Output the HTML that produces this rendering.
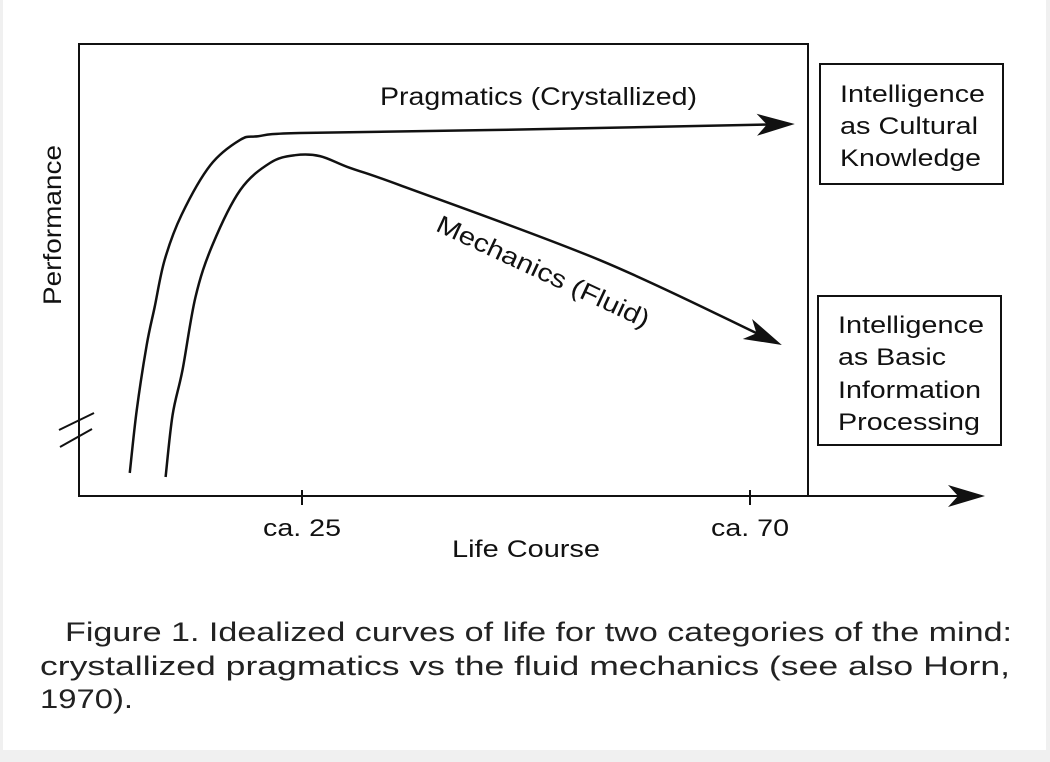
<!DOCTYPE html>
<html><head><meta charset="utf-8"><style>
html,body{margin:0;padding:0;background:#f0f0f0;}
svg{display:block;font-family:"Liberation Sans",sans-serif;}
</style></head><body>
<svg id="chart" width="1050" height="762" viewBox="0 0 1050 762">
<rect x="3" y="0" width="1043" height="750" fill="#fff"/>
<rect x="79" y="44" width="729" height="452" fill="none" stroke="#111" stroke-width="2"/>
<line x1="79" y1="496" x2="965" y2="496" stroke="#111" stroke-width="2"/>
<path d="M985,496 L948,485 L958,496 L948,507 Z" fill="#111"/>
<line x1="59" y1="430" x2="94" y2="413" stroke="#111" stroke-width="2"/>
<line x1="60" y1="447" x2="92" y2="429" stroke="#111" stroke-width="2"/>
<g id="ticks"></g>
<g id="series"></g>
<text x="61" y="225" font-size="25" text-anchor="middle" textLength="160" lengthAdjust="spacingAndGlyphs" transform="rotate(-90 61 225)" fill="#111">Performance</text>
<text x="452" y="557" font-size="24" textLength="148" lengthAdjust="spacingAndGlyphs" fill="#111">Life Course</text>
<text x="380" y="105" font-size="25" textLength="317" lengthAdjust="spacingAndGlyphs" fill="#111">Pragmatics (Crystallized)</text>
<text x="543" y="280" font-size="25" text-anchor="middle" textLength="232" lengthAdjust="spacingAndGlyphs" fill="#111" transform="rotate(25 543 272)">Mechanics (Fluid)</text>
<g font-size="24" fill="#111">
<rect x="820" y="64" width="183" height="120" fill="none" stroke="#111" stroke-width="2"/>
<text x="840" y="102" textLength="145" lengthAdjust="spacingAndGlyphs">Intelligence</text>
<text x="840" y="134" textLength="138" lengthAdjust="spacingAndGlyphs">as Cultural</text>
<text x="840" y="166" textLength="141" lengthAdjust="spacingAndGlyphs">Knowledge</text>
</g>
<g font-size="24" fill="#111">
<rect x="818" y="296" width="183" height="149" fill="none" stroke="#111" stroke-width="2"/>
<text x="838" y="333" textLength="146" lengthAdjust="spacingAndGlyphs">Intelligence</text>
<text x="838" y="365" textLength="108" lengthAdjust="spacingAndGlyphs">as Basic</text>
<text x="838" y="398" textLength="143" lengthAdjust="spacingAndGlyphs">Information</text>
<text x="838" y="430" textLength="142" lengthAdjust="spacingAndGlyphs">Processing</text>
</g>
<g font-size="27" fill="#222">
<text x="65" y="641" textLength="947" lengthAdjust="spacingAndGlyphs">Figure 1. Idealized curves of life for two categories of the mind:</text>
<text x="40" y="675" textLength="970" lengthAdjust="spacingAndGlyphs">crystallized pragmatics vs the fluid mechanics (see also Horn,</text>
<text x="40" y="708" textLength="93" lengthAdjust="spacingAndGlyphs">1970).</text>
</g>
</svg>
<script>
const tickAges=[25,70];
const tickLabels=["ca. 25","ca. 70"];
const pragAge=[7.7,8.4,9.4,10.2,11.2,12.9,15.8,18.8,20.6,24.8,44.9,74.5];
const pragPerf=[5.1,19.0,33.4,41.8,52.2,62.2,73.2,78.8,79.6,80.3,81.0,82.3];
const mechAge=[11.3,12.0,13.0,14.3,16.0,18.8,21.8,24.3,26.8,29.8,34.8,54.9,73.2];
const mechPerf=[4.2,17.9,27.9,44.0,55.5,67.7,73.7,75.4,75.2,72.6,68.8,52.2,33.4];
const NS="http://www.w3.org/2000/svg";
function xs(a){return 302+(a-25)*(750-302)/45;}
function ys(p){return 496-p*4.52;}
const tg=document.getElementById('ticks');
tickAges.forEach((a,i)=>{
 const l=document.createElementNS(NS,'line');
 
 
 l.setAttribute('x1',xs(a));l.setAttribute('x2',xs(a));l.setAttribute('y1',490);l.setAttribute('y2',505);
 l.setAttribute('stroke','#111');l.setAttribute('stroke-width','2');tg.appendChild(l);
 const t=document.createElementNS(NS,'text');
 
 
 t.setAttribute('x',xs(a));t.setAttribute('y',536);t.setAttribute('font-size','24');
 t.setAttribute('textLength','78');t.setAttribute('lengthAdjust','spacingAndGlyphs');
 t.setAttribute('text-anchor','middle');t.setAttribute('fill','#111');t.textContent=tickLabels[i];tg.appendChild(t);
});
function curve(ages,perfs,name){
 const pts=ages.map((a,i)=>[xs(a),ys(perfs[i])]);
 const n=pts.length;
 const tip=pts[n-1],prev=pts[n-2];
 const dx=tip[0]-prev[0],dy=tip[1]-prev[1],L=Math.hypot(dx,dy),ux=dx/L,uy=dy/L;
 const end=[tip[0]-ux*25,tip[1]-uy*25];
 const P=pts.slice(0,n-1).concat([end]);
 let d='M'+P[0][0]+','+P[0][1];
 for(let i=0;i<P.length-1;i++){
  const p0=P[Math.max(i-1,0)],p1=P[i],p2=P[i+1],p3=P[Math.min(i+2,P.length-1)];
  const c1=[p1[0]+(p2[0]-p0[0])/6,p1[1]+(p2[1]-p0[1])/6];
  const c2=[p2[0]-(p3[0]-p1[0])/6,p2[1]-(p3[1]-p1[1])/6];
  d+=' C'+c1[0]+','+c1[1]+' '+c2[0]+','+c2[1]+' '+p2[0]+','+p2[1];
 }
 const g=document.getElementById('series');
 const path=document.createElementNS(NS,'path');
 
 
 path.setAttribute('d',d);path.setAttribute('fill','none');path.setAttribute('stroke','#111');path.setAttribute('stroke-width','2.5');
 g.appendChild(path);
 const px=-uy,py=ux;
 const b=[tip[0]-ux*38,tip[1]-uy*38],m=[tip[0]-ux*28,tip[1]-uy*28];
 const ah=document.createElementNS(NS,'path');
 
 
 ah.setAttribute('d','M'+tip[0]+','+tip[1]+' L'+(b[0]+px*11)+','+(b[1]+py*11)+' L'+m[0]+','+m[1]+' L'+(b[0]-px*11)+','+(b[1]-py*11)+' Z');
 ah.setAttribute('fill','#111');
 g.appendChild(ah);
}
curve(pragAge,pragPerf,'pragmatics');
curve(mechAge,mechPerf,'mechanics');
</script>
</body></html>
